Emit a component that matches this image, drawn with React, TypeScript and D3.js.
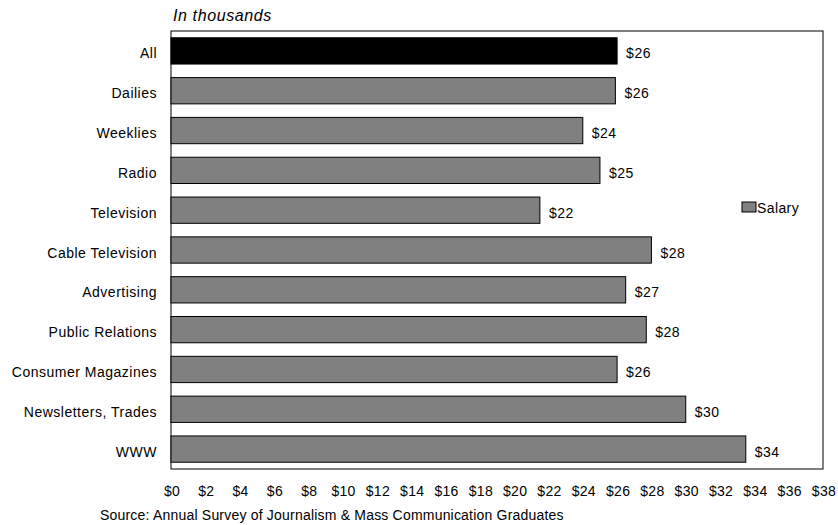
import React from "react";
import * as d3 from "d3";

const categories = [
  "All",
  "Dailies",
  "Weeklies",
  "Radio",
  "Television",
  "Cable Television",
  "Advertising",
  "Public Relations",
  "Consumer Magazines",
  "Newsletters, Trades",
  "WWW",
];
const salaries = [26, 25.9, 24, 25, 21.5, 28, 26.5, 27.7, 26, 30, 33.5];
const salaryLabels = ["$26", "$26", "$24", "$25", "$22", "$28", "$27", "$28", "$26", "$30", "$34"];
const xTicks = d3.range(0, 40, 2);

const W = 838;
const H = 525;
const left = 171;
const right = 823;
const top = 31;
const bottom = 469;
const font = "Liberation Sans, Arial, sans-serif";

export default function App() {
  const x = d3.scaleLinear().domain([0, 38]).range([left, right]);
  const y = d3
    .scaleBand<string>()
    .domain(categories)
    .range([top, bottom])
    .paddingInner(0.34)
    .paddingOuter(0.17);

  return (
    <svg width={W} height={H} style={{ position: "absolute", left: 0, top: 0 }} fontFamily={font}>
      <rect x={0} y={0} width={W} height={H} fill="#fff" />
      <text x={173} y={20.5} fontSize={16} fontStyle="italic" letterSpacing={0.6} fill="#000">
        In thousands
      </text>
      <rect x={left} y={top} width={right - left} height={bottom - top} fill="#fff" stroke="#000" strokeWidth={1} />
      {categories.map((c, i) => {
        const yy = y(c)!;
        const bh = y.bandwidth();
        return (
          <g key={c}>
            <rect
              x={x(0)}
              y={yy}
              width={x(salaries[i]) - x(0)}
              height={bh}
              fill={i === 0 ? "#000" : "#808080"}
              stroke="#000"
              strokeWidth={1}
            />
            <text x={157} y={yy + bh / 2 + 7.5} textAnchor="end" fontSize={14} letterSpacing={0.5} fill="#000">
              {c}
            </text>
            <text x={x(salaries[i]) + 9} y={yy + bh / 2 + 7.5} fontSize={14} letterSpacing={0.5} fill="#000">
              {salaryLabels[i]}
            </text>
          </g>
        );
      })}
      {xTicks.map((t) => (
        <text key={t} x={x(t) + 1} y={495.5} textAnchor="middle" fontSize={14} letterSpacing={0.3} fill="#000">
          {"$" + t}
        </text>
      ))}
      <rect x={742} y={202} width={14} height={10} fill="#808080" stroke="#000" strokeWidth={1} />
      <text x={757} y={212.5} fontSize={14} letterSpacing={0.4} fill="#000">
        Salary
      </text>
      <text x={100} y={520} fontSize={14} letterSpacing={0.2} fill="#000">
        Source: Annual Survey of Journalism &amp; Mass Communication Graduates
      </text>
    </svg>
  );
}
